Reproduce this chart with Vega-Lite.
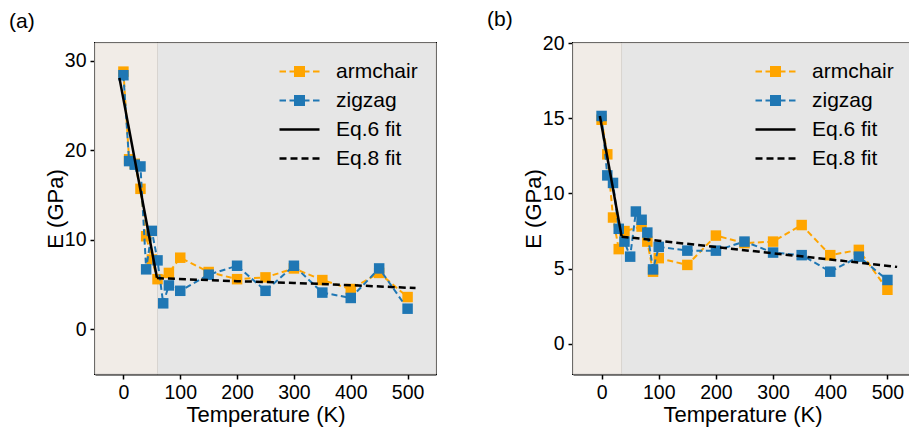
{
  "$schema": "https://vega.github.io/schema/vega-lite/v6.json",
  "padding": {"left": 8, "top": 8, "right": 0, "bottom": 0},
  "spacing": 48,
  "background": "#ffffff",
  "resolve": {"scale": {"color": "independent", "fill": "independent", "x": "independent", "y": "independent"}, "legend": {"color": "independent"}},
  "config": {
    "font": "Liberation Sans",
    "view": {"stroke": "#000000", "strokeWidth": 2},
    "axis": {"grid": false, "domainColor": "#000000", "domainWidth": 2, "tickColor": "#000000", "tickWidth": 1.5, "tickSize": 5, "labelFontSize": 19.5, "labelColor": "#000000", "titleFontSize": 22, "titleFontWeight": "normal", "titleColor": "#000000", "labelFont": "Liberation Sans", "titleFont": "Liberation Sans", "labelPadding": 4},
    "axisX": {"titlePadding": 3},
    "axisY": {"titlePadding": -3},
    "legend": {"orient": "top-right", "offset": 18, "labelFontSize": 21, "labelFont": "Liberation Sans", "labelColor": "#000000", "symbolSize": 400, "rowPadding": 7, "labelOffset": 26, "padding": 0},
    "title": {"fontSize": 21, "fontWeight": "normal", "anchor": "start", "frame": "group", "color": "#000000", "font": "Liberation Sans"}
  },
  "datasets": {
    "pts": [
      {"panel": "a", "series": "armchair", "T": 0, "E": 28.8},
      {"panel": "a", "series": "armchair", "T": 10, "E": 19.0},
      {"panel": "a", "series": "armchair", "T": 20, "E": 18.5},
      {"panel": "a", "series": "armchair", "T": 30, "E": 15.7},
      {"panel": "a", "series": "armchair", "T": 40, "E": 10.4},
      {"panel": "a", "series": "armchair", "T": 50, "E": 7.8},
      {"panel": "a", "series": "armchair", "T": 60, "E": 5.6},
      {"panel": "a", "series": "armchair", "T": 80, "E": 6.3},
      {"panel": "a", "series": "armchair", "T": 100, "E": 8.0},
      {"panel": "a", "series": "armchair", "T": 150, "E": 6.4},
      {"panel": "a", "series": "armchair", "T": 200, "E": 5.6},
      {"panel": "a", "series": "armchair", "T": 250, "E": 5.8},
      {"panel": "a", "series": "armchair", "T": 300, "E": 6.8},
      {"panel": "a", "series": "armchair", "T": 350, "E": 5.5},
      {"panel": "a", "series": "armchair", "T": 400, "E": 4.5},
      {"panel": "a", "series": "armchair", "T": 450, "E": 6.3},
      {"panel": "a", "series": "armchair", "T": 500, "E": 3.6},
      {"panel": "a", "series": "zigzag", "T": 0, "E": 28.4},
      {"panel": "a", "series": "zigzag", "T": 10, "E": 18.8},
      {"panel": "a", "series": "zigzag", "T": 20, "E": 18.4},
      {"panel": "a", "series": "zigzag", "T": 30, "E": 18.2},
      {"panel": "a", "series": "zigzag", "T": 40, "E": 6.7},
      {"panel": "a", "series": "zigzag", "T": 50, "E": 11.0},
      {"panel": "a", "series": "zigzag", "T": 60, "E": 7.7},
      {"panel": "a", "series": "zigzag", "T": 70, "E": 2.9},
      {"panel": "a", "series": "zigzag", "T": 80, "E": 4.9},
      {"panel": "a", "series": "zigzag", "T": 100, "E": 4.3},
      {"panel": "a", "series": "zigzag", "T": 150, "E": 6.1},
      {"panel": "a", "series": "zigzag", "T": 200, "E": 7.1},
      {"panel": "a", "series": "zigzag", "T": 250, "E": 4.3},
      {"panel": "a", "series": "zigzag", "T": 300, "E": 7.1},
      {"panel": "a", "series": "zigzag", "T": 350, "E": 4.1},
      {"panel": "a", "series": "zigzag", "T": 400, "E": 3.5},
      {"panel": "a", "series": "zigzag", "T": 450, "E": 6.8},
      {"panel": "a", "series": "zigzag", "T": 500, "E": 2.3},
      {"panel": "b", "series": "armchair", "T": 0, "E": 14.9},
      {"panel": "b", "series": "armchair", "T": 10, "E": 12.6},
      {"panel": "b", "series": "armchair", "T": 20, "E": 8.4},
      {"panel": "b", "series": "armchair", "T": 30, "E": 6.3},
      {"panel": "b", "series": "armchair", "T": 40, "E": 7.5},
      {"panel": "b", "series": "armchair", "T": 70, "E": 7.8},
      {"panel": "b", "series": "armchair", "T": 80, "E": 6.8},
      {"panel": "b", "series": "armchair", "T": 90, "E": 4.8},
      {"panel": "b", "series": "armchair", "T": 100, "E": 5.7},
      {"panel": "b", "series": "armchair", "T": 150, "E": 5.25},
      {"panel": "b", "series": "armchair", "T": 200, "E": 7.2},
      {"panel": "b", "series": "armchair", "T": 250, "E": 6.7},
      {"panel": "b", "series": "armchair", "T": 300, "E": 6.8},
      {"panel": "b", "series": "armchair", "T": 350, "E": 7.9},
      {"panel": "b", "series": "armchair", "T": 400, "E": 5.9},
      {"panel": "b", "series": "armchair", "T": 450, "E": 6.25},
      {"panel": "b", "series": "armchair", "T": 500, "E": 3.6},
      {"panel": "b", "series": "zigzag", "T": 0, "E": 15.15},
      {"panel": "b", "series": "zigzag", "T": 10, "E": 11.2},
      {"panel": "b", "series": "zigzag", "T": 20, "E": 10.7},
      {"panel": "b", "series": "zigzag", "T": 30, "E": 7.65},
      {"panel": "b", "series": "zigzag", "T": 40, "E": 6.8},
      {"panel": "b", "series": "zigzag", "T": 50, "E": 5.8},
      {"panel": "b", "series": "zigzag", "T": 60, "E": 8.8},
      {"panel": "b", "series": "zigzag", "T": 70, "E": 8.25},
      {"panel": "b", "series": "zigzag", "T": 80, "E": 7.4},
      {"panel": "b", "series": "zigzag", "T": 90, "E": 4.95},
      {"panel": "b", "series": "zigzag", "T": 100, "E": 6.45},
      {"panel": "b", "series": "zigzag", "T": 150, "E": 6.2},
      {"panel": "b", "series": "zigzag", "T": 200, "E": 6.2},
      {"panel": "b", "series": "zigzag", "T": 250, "E": 6.8},
      {"panel": "b", "series": "zigzag", "T": 300, "E": 6.07},
      {"panel": "b", "series": "zigzag", "T": 350, "E": 5.9},
      {"panel": "b", "series": "zigzag", "T": 400, "E": 4.8},
      {"panel": "b", "series": "zigzag", "T": 450, "E": 5.8},
      {"panel": "b", "series": "zigzag", "T": 500, "E": 4.25}
    ],
    "fits": [
      {"panel": "a", "series": "Eq.6 fit", "T": -7, "E": 28.1},
      {"panel": "a", "series": "Eq.6 fit", "T": 59, "E": 5.75},
      {"panel": "a", "series": "Eq.8 fit", "T": 59, "E": 5.72},
      {"panel": "a", "series": "Eq.8 fit", "T": 117, "E": 5.57},
      {"panel": "a", "series": "Eq.8 fit", "T": 200, "E": 5.38},
      {"panel": "a", "series": "Eq.8 fit", "T": 300, "E": 5.18},
      {"panel": "a", "series": "Eq.8 fit", "T": 400, "E": 4.93},
      {"panel": "a", "series": "Eq.8 fit", "T": 514, "E": 4.6},
      {"panel": "b", "series": "Eq.6 fit", "T": -3, "E": 15.15},
      {"panel": "b", "series": "Eq.6 fit", "T": 35, "E": 7.15},
      {"panel": "b", "series": "Eq.8 fit", "T": 35, "E": 7.13},
      {"panel": "b", "series": "Eq.8 fit", "T": 100, "E": 6.86},
      {"panel": "b", "series": "Eq.8 fit", "T": 200, "E": 6.44},
      {"panel": "b", "series": "Eq.8 fit", "T": 300, "E": 6.02},
      {"panel": "b", "series": "Eq.8 fit", "T": 400, "E": 5.61},
      {"panel": "b", "series": "Eq.8 fit", "T": 517, "E": 5.12}
    ],
    "zones": [
      {"panel": "a", "zone": "low", "x0": -50, "x1": 60},
      {"panel": "a", "zone": "high", "x0": 60, "x1": 550},
      {"panel": "b", "zone": "low", "x0": -50, "x1": 35},
      {"panel": "b", "zone": "high", "x0": 35, "x1": 543}
    ]
  },
  "hconcat": [
    {
      "width": 341,
      "height": 331,
      "title": {"text": "(a)", "dx": -86, "offset": 11},
      "layer": [
        {
          "data": {"name": "zones"},
          "transform": [{"filter": "datum.panel == 'a'"}],
          "mark": {"type": "rect", "stroke": "#d8d4d0", "strokeWidth": 1},
          "encoding": {
            "x": {"field": "x0", "type": "quantitative", "scale": {"domain": [-50, 550], "nice": false, "zero": false}, "axis": {"title": "Temperature (K)", "values": [0, 100, 200, 300, 400, 500]}},
            "x2": {"field": "x1"},
            "fill": {"field": "zone", "type": "nominal", "scale": {"domain": ["low", "high"], "range": ["#f1ece7", "#e6e6e6"]}, "legend": null}
          }
        },
        {
          "data": {"name": "pts"},
          "transform": [{"filter": "datum.panel == 'a' && datum.series == 'armchair'"}],
          "mark": {"type": "line", "strokeWidth": 2, "strokeDash": [6, 3.5]},
          "encoding": {
            "x": {"field": "T", "type": "quantitative"},
            "y": {"field": "E", "type": "quantitative", "scale": {"domain": [-5, 32], "nice": false, "zero": false}, "axis": {"title": "E (GPa)", "values": [0, 10, 20, 30]}},
            "color": {"field": "series", "type": "nominal", "scale": {"domain": ["armchair", "zigzag", "Eq.6 fit", "Eq.8 fit"], "range": ["#ffa500", "#1f77b4", "#000000", "#000000"]},
              "legend": {"title": null, "encode": {"symbols": {"update": {
                "shape": {"signal": "datum.value == 'armchair' || datum.value == 'zigzag' ? 'M-2,0L-1.35,0M-1,0L1,0M1.35,0L2,0M-0.45,-0.55L-0.45,0.55M-0.25,-0.55L-0.25,0.55M-0.05,-0.55L-0.05,0.55M0.15,-0.55L0.15,0.55M0.35,-0.55L0.35,0.55M0.45,-0.55L0.45,0.55' : datum.value == 'Eq.8 fit' ? 'M-2,0L-1.3,0M-0.9,0L-0.2,0M0.2,0L0.9,0M1.3,0L2,0' : 'M-2,0L2,0'"},
                "stroke": {"signal": "datum.value == 'armchair' ? '#ffa500' : datum.value == 'zigzag' ? '#1f77b4' : '#000000'"},
                "strokeDash": {"signal": "[1, 0]"},
                "strokeWidth": {"signal": "datum.value == 'Eq.6 fit' || datum.value == 'Eq.8 fit' ? 2.5 : 2"},
                "opacity": {"value": 1}
              }}}}}
          }
        },
        {
          "data": {"name": "pts"},
          "transform": [{"filter": "datum.panel == 'a' && datum.series == 'armchair'"}],
          "mark": {"type": "point", "shape": "square", "filled": true, "size": 110, "opacity": 1},
          "encoding": {"x": {"field": "T", "type": "quantitative"}, "y": {"field": "E", "type": "quantitative"}, "color": {"field": "series", "type": "nominal"}}
        },
        {
          "data": {"name": "pts"},
          "transform": [{"filter": "datum.panel == 'a' && datum.series == 'zigzag'"}],
          "mark": {"type": "line", "strokeWidth": 2, "strokeDash": [6, 3.5]},
          "encoding": {"x": {"field": "T", "type": "quantitative"}, "y": {"field": "E", "type": "quantitative"}, "color": {"field": "series", "type": "nominal"}}
        },
        {
          "data": {"name": "pts"},
          "transform": [{"filter": "datum.panel == 'a' && datum.series == 'zigzag'"}],
          "mark": {"type": "point", "shape": "square", "filled": true, "size": 110, "opacity": 1},
          "encoding": {"x": {"field": "T", "type": "quantitative"}, "y": {"field": "E", "type": "quantitative"}, "color": {"field": "series", "type": "nominal"}}
        },
        {
          "data": {"name": "fits"},
          "transform": [{"filter": "datum.panel == 'a' && datum.series == 'Eq.6 fit'"}],
          "mark": {"type": "line", "strokeWidth": 2.5},
          "encoding": {"x": {"field": "T", "type": "quantitative"}, "y": {"field": "E", "type": "quantitative"}, "color": {"field": "series", "type": "nominal"}}
        },
        {
          "data": {"name": "fits"},
          "transform": [{"filter": "datum.panel == 'a' && datum.series == 'Eq.8 fit'"}],
          "mark": {"type": "line", "strokeWidth": 2.5, "strokeDash": [7, 4]},
          "encoding": {"x": {"field": "T", "type": "quantitative"}, "y": {"field": "E", "type": "quantitative"}, "color": {"field": "series", "type": "nominal"}}
        }
      ]
    },
    {
      "width": 339,
      "height": 331,
      "title": {"text": "(b)", "dx": -86, "offset": 3},
      "layer": [
        {
          "data": {"name": "zones"},
          "transform": [{"filter": "datum.panel == 'b'"}],
          "mark": {"type": "rect", "stroke": "#d8d4d0", "strokeWidth": 1},
          "encoding": {
            "x": {"field": "x0", "type": "quantitative", "scale": {"domain": [-50, 543], "nice": false, "zero": false}, "axis": {"title": "Temperature (K)", "values": [0, 100, 200, 300, 400, 500]}},
            "x2": {"field": "x1"},
            "fill": {"field": "zone", "type": "nominal", "scale": {"domain": ["low", "high"], "range": ["#f1ece7", "#e6e6e6"]}, "legend": null}
          }
        },
        {
          "data": {"name": "pts"},
          "transform": [{"filter": "datum.panel == 'b' && datum.series == 'armchair'"}],
          "mark": {"type": "line", "strokeWidth": 2, "strokeDash": [6, 3.5]},
          "encoding": {
            "x": {"field": "T", "type": "quantitative"},
            "y": {"field": "E", "type": "quantitative", "scale": {"domain": [-2, 20], "nice": false, "zero": false}, "axis": {"title": "E (GPa)", "values": [0, 5, 10, 15, 20]}},
            "color": {"field": "series", "type": "nominal", "scale": {"domain": ["armchair", "zigzag", "Eq.6 fit", "Eq.8 fit"], "range": ["#ffa500", "#1f77b4", "#000000", "#000000"]},
              "legend": {"title": null, "encode": {"symbols": {"update": {
                "shape": {"signal": "datum.value == 'armchair' || datum.value == 'zigzag' ? 'M-2,0L-1.35,0M-1,0L1,0M1.35,0L2,0M-0.45,-0.55L-0.45,0.55M-0.25,-0.55L-0.25,0.55M-0.05,-0.55L-0.05,0.55M0.15,-0.55L0.15,0.55M0.35,-0.55L0.35,0.55M0.45,-0.55L0.45,0.55' : datum.value == 'Eq.8 fit' ? 'M-2,0L-1.3,0M-0.9,0L-0.2,0M0.2,0L0.9,0M1.3,0L2,0' : 'M-2,0L2,0'"},
                "stroke": {"signal": "datum.value == 'armchair' ? '#ffa500' : datum.value == 'zigzag' ? '#1f77b4' : '#000000'"},
                "strokeDash": {"signal": "[1, 0]"},
                "strokeWidth": {"signal": "datum.value == 'Eq.6 fit' || datum.value == 'Eq.8 fit' ? 2.5 : 2"},
                "opacity": {"value": 1}
              }}}}}
          }
        },
        {
          "data": {"name": "pts"},
          "transform": [{"filter": "datum.panel == 'b' && datum.series == 'armchair'"}],
          "mark": {"type": "point", "shape": "square", "filled": true, "size": 110, "opacity": 1},
          "encoding": {"x": {"field": "T", "type": "quantitative"}, "y": {"field": "E", "type": "quantitative"}, "color": {"field": "series", "type": "nominal"}}
        },
        {
          "data": {"name": "pts"},
          "transform": [{"filter": "datum.panel == 'b' && datum.series == 'zigzag'"}],
          "mark": {"type": "line", "strokeWidth": 2, "strokeDash": [6, 3.5]},
          "encoding": {"x": {"field": "T", "type": "quantitative"}, "y": {"field": "E", "type": "quantitative"}, "color": {"field": "series", "type": "nominal"}}
        },
        {
          "data": {"name": "pts"},
          "transform": [{"filter": "datum.panel == 'b' && datum.series == 'zigzag'"}],
          "mark": {"type": "point", "shape": "square", "filled": true, "size": 110, "opacity": 1},
          "encoding": {"x": {"field": "T", "type": "quantitative"}, "y": {"field": "E", "type": "quantitative"}, "color": {"field": "series", "type": "nominal"}}
        },
        {
          "data": {"name": "fits"},
          "transform": [{"filter": "datum.panel == 'b' && datum.series == 'Eq.6 fit'"}],
          "mark": {"type": "line", "strokeWidth": 2.5},
          "encoding": {"x": {"field": "T", "type": "quantitative"}, "y": {"field": "E", "type": "quantitative"}, "color": {"field": "series", "type": "nominal"}}
        },
        {
          "data": {"name": "fits"},
          "transform": [{"filter": "datum.panel == 'b' && datum.series == 'Eq.8 fit'"}],
          "mark": {"type": "line", "strokeWidth": 2.5, "strokeDash": [7, 4]},
          "encoding": {"x": {"field": "T", "type": "quantitative"}, "y": {"field": "E", "type": "quantitative"}, "color": {"field": "series", "type": "nominal"}}
        }
      ]
    }
  ]
}
